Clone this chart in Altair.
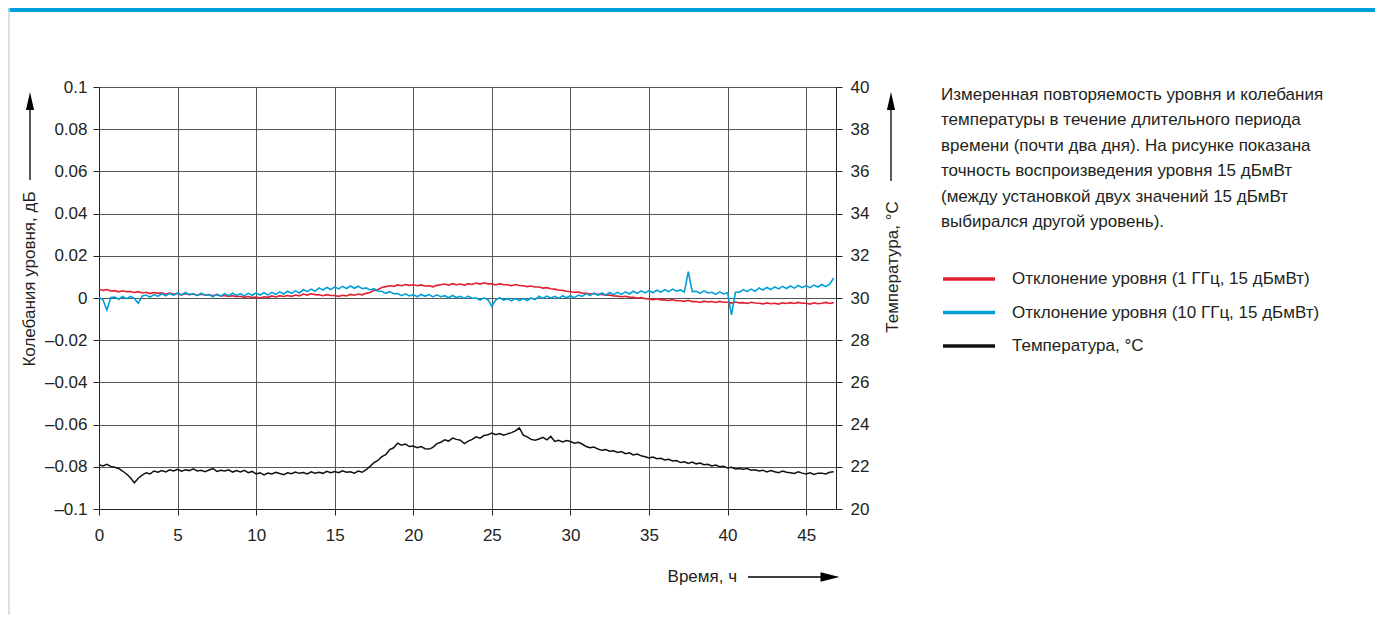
import altair as alt
import pandas as pd

# ---------------- data ----------------
TIME_H = [
    0, 0.25, 0.5, 0.75, 1, 1.25, 1.5, 1.75, 2, 2.25, 2.5, 2.75, 3, 3.25, 3.5, 3.75,
    4, 4.25, 4.5, 4.75, 5, 5.25, 5.5, 5.75, 6, 6.25, 6.5, 6.75, 7, 7.25, 7.5, 7.75,
    8, 8.25, 8.5, 8.75, 9, 9.25, 9.5, 9.75, 10, 10.25, 10.5, 10.75, 11, 11.25, 11.5, 11.75,
    12, 12.25, 12.5, 12.75, 13, 13.25, 13.5, 13.75, 14, 14.25, 14.5, 14.75, 15, 15.25, 15.5, 15.75,
    16, 16.25, 16.5, 16.75, 17, 17.25, 17.5, 17.75, 18, 18.25, 18.5, 18.75, 19, 19.25, 19.5, 19.75,
    20, 20.25, 20.5, 20.75, 21, 21.25, 21.5, 21.75, 22, 22.25, 22.5, 22.75, 23, 23.25, 23.5, 23.75,
    24, 24.25, 24.5, 24.75, 25, 25.25, 25.5, 25.75, 26, 26.25, 26.5, 26.75, 27, 27.25, 27.5, 27.75,
    28, 28.25, 28.5, 28.75, 29, 29.25, 29.5, 29.75, 30, 30.25, 30.5, 30.75, 31, 31.25, 31.5, 31.75,
    32, 32.25, 32.5, 32.75, 33, 33.25, 33.5, 33.75, 34, 34.25, 34.5, 34.75, 35, 35.25, 35.5, 35.75,
    36, 36.25, 36.5, 36.75, 37, 37.25, 37.5, 37.75, 38, 38.25, 38.5, 38.75, 39, 39.25, 39.5, 39.75,
    40, 40.25, 40.5, 40.75, 41, 41.25, 41.5, 41.75, 42, 42.25, 42.5, 42.75, 43, 43.25, 43.5, 43.75,
    44, 44.25, 44.5, 44.75, 45, 45.25, 45.5, 45.75, 46, 46.25, 46.5, 46.75,
]

LEVEL_1GHZ = [
    0.0042, 0.0036, 0.0040, 0.0033, 0.0035, 0.0029, 0.0034, 0.0030,
    0.0031, 0.0026, 0.0030, 0.0024, 0.0027, 0.0021, 0.0026, 0.0022,
    0.0024, 0.0018, 0.0023, 0.0019, 0.0021, 0.0015, 0.0020, 0.0016,
    0.0019, 0.0013, 0.0018, 0.0014, 0.0016, 0.0011, 0.0015, 0.0010,
    0.0012, 0.0007, 0.0011, 0.0006, 0.0008, 0.0003, 0.0007, 0.0002,
    0.0005, 0.0000, 0.0006, 0.0003, 0.0010, 0.0005, 0.0011, 0.0007,
    0.0012, 0.0008, 0.0014, 0.0010, 0.0019, 0.0014, 0.0020, 0.0016,
    0.0015, 0.0011, 0.0016, 0.0012, 0.0012, 0.0008, 0.0013, 0.0010,
    0.0017, 0.0013, 0.0019, 0.0015, 0.0022, 0.0026, 0.0036, 0.0040,
    0.0050, 0.0054, 0.0058, 0.0055, 0.0062, 0.0058, 0.0064, 0.0060,
    0.0063, 0.0058, 0.0062, 0.0057, 0.0058, 0.0053, 0.0060, 0.0063,
    0.0066, 0.0061, 0.0068, 0.0063, 0.0066, 0.0061, 0.0068, 0.0064,
    0.0071, 0.0066, 0.0072, 0.0067, 0.0067, 0.0062, 0.0068, 0.0063,
    0.0063, 0.0058, 0.0064, 0.0059, 0.0058, 0.0054, 0.0057, 0.0052,
    0.0052, 0.0047, 0.0049, 0.0044, 0.0042, 0.0038, 0.0036, 0.0032,
    0.0030, 0.0027, 0.0028, 0.0023, 0.0022, 0.0019, 0.0021, 0.0017,
    0.0017, 0.0013, 0.0014, 0.0010, 0.0009, 0.0006, 0.0008, 0.0004,
    0.0003, 0.0000, 0.0002, -0.0003, -0.0005, -0.0008, -0.0004, -0.0009,
    -0.0009, -0.0012, -0.0008, -0.0013, -0.0013, -0.0016, -0.0011, -0.0017,
    -0.0017, -0.0021, -0.0015, -0.0019, -0.0017, -0.0021, -0.0016, -0.0020,
    -0.0020, -0.0024, -0.0019, -0.0023, -0.0022, -0.0026, -0.0020, -0.0024,
    -0.0025, -0.0028, -0.0023, -0.0027, -0.0025, -0.0029, -0.0023, -0.0026,
    -0.0022, -0.0026, -0.0021, -0.0025, -0.0025, -0.0029, -0.0023, -0.0027,
    -0.0025, -0.0021, -0.0026, -0.0022,
]

LEVEL_10GHZ = [
    0.0003, -0.0008, -0.0057, 0.0002, 0.0004, -0.0006, 0.0007, -0.0003,
    0.0008, -0.0002, -0.0025, 0.0010, 0.0014, 0.0004, 0.0016, 0.0008,
    0.0020, 0.0010, 0.0022, 0.0013, 0.0024, 0.0014, 0.0026, 0.0016,
    0.0021, 0.0011, 0.0023, 0.0013, 0.0016, 0.0006, 0.0018, 0.0009,
    0.0021, 0.0011, 0.0023, 0.0012, 0.0021, 0.0010, 0.0022, 0.0013,
    0.0024, 0.0014, 0.0025, 0.0015, 0.0027, 0.0017, 0.0029, 0.0019,
    0.0032, 0.0022, 0.0034, 0.0024, 0.0040, 0.0030, 0.0042, 0.0032,
    0.0048, 0.0038, 0.0050, 0.0040, 0.0053, 0.0043, 0.0055, 0.0045,
    0.0057, 0.0046, 0.0056, 0.0044, 0.0048, 0.0038, 0.0044, 0.0032,
    0.0032, 0.0022, 0.0030, 0.0020, 0.0021, 0.0011, 0.0020, 0.0010,
    0.0016, 0.0006, 0.0017, 0.0008, 0.0016, 0.0005, 0.0015, 0.0006,
    0.0011, 0.0001, 0.0012, 0.0002, 0.0008, -0.0002, 0.0009, -0.0001,
    0.0000, -0.0010, 0.0001, -0.0008, -0.0040, -0.0009, 0.0001, -0.0010,
    -0.0004, -0.0014, -0.0003, -0.0012, -0.0002, -0.0012, 0.0000, -0.0008,
    0.0008, -0.0002, 0.0009, 0.0000, 0.0008, -0.0002, 0.0010, 0.0001,
    0.0011, 0.0001, 0.0014, 0.0008, 0.0021, 0.0011, 0.0023, 0.0013,
    0.0024, 0.0014, 0.0026, 0.0016, 0.0027, 0.0017, 0.0029, 0.0019,
    0.0032, 0.0022, 0.0034, 0.0024, 0.0035, 0.0025, 0.0037, 0.0028,
    0.0040, 0.0030, 0.0042, 0.0032, 0.0038, 0.0028, 0.0125, 0.0030,
    0.0032, 0.0022, 0.0034, 0.0024, 0.0027, 0.0017, 0.0029, 0.0019,
    0.0025, -0.0080, 0.0027, 0.0028, 0.0040, 0.0030, 0.0042, 0.0032,
    0.0048, 0.0038, 0.0050, 0.0040, 0.0053, 0.0043, 0.0055, 0.0045,
    0.0057, 0.0047, 0.0059, 0.0049, 0.0059, 0.0049, 0.0061, 0.0052,
    0.0064, 0.0054, 0.0066, 0.0095,
]

TEMPERATURE_C = [
    22.10, 22.04, 22.12, 22.02, 21.98, 21.92, 21.80, 21.66,
    21.48, 21.24, 21.46, 21.60, 21.72, 21.66, 21.80, 21.74,
    21.82, 21.76, 21.86, 21.80, 21.88, 21.79, 21.86, 21.82,
    21.90, 21.80, 21.84, 21.77, 21.85, 21.92, 21.78, 21.84,
    21.80, 21.86, 21.75, 21.82, 21.76, 21.83, 21.72, 21.78,
    21.66, 21.72, 21.62, 21.70, 21.66, 21.74, 21.68, 21.63,
    21.72, 21.67, 21.75, 21.69, 21.73, 21.66, 21.76, 21.70,
    21.74, 21.69, 21.79, 21.72, 21.78, 21.72, 21.81, 21.74,
    21.76, 21.70, 21.80, 21.74, 21.86, 22.02, 22.20, 22.30,
    22.48, 22.58, 22.82, 22.90, 23.12, 23.02, 23.08, 22.96,
    22.98, 22.90, 22.96, 22.86, 22.84, 22.92, 23.10, 23.16,
    23.28, 23.22, 23.36, 23.30, 23.26, 23.10, 23.22, 23.30,
    23.42, 23.36, 23.48, 23.52, 23.60, 23.52, 23.58, 23.50,
    23.56, 23.62, 23.70, 23.84, 23.50, 23.42, 23.30, 23.26,
    23.32, 23.40, 23.28, 23.44, 23.20, 23.26, 23.18, 23.24,
    23.20, 23.12, 23.16, 23.08, 22.96, 22.90, 22.94, 22.84,
    22.78, 22.82, 22.74, 22.76, 22.68, 22.72, 22.62, 22.66,
    22.56, 22.60, 22.52, 22.48, 22.42, 22.46, 22.38, 22.40,
    22.32, 22.36, 22.28, 22.30, 22.20, 22.24, 22.16, 22.22,
    22.14, 22.18, 22.10, 22.12, 22.04, 22.08, 22.00, 22.02,
    21.94, 21.98, 21.90, 21.92, 21.88, 21.92, 21.84, 21.86,
    21.80, 21.84, 21.76, 21.82, 21.77, 21.72, 21.80, 21.74,
    21.72, 21.68, 21.76, 21.70, 21.66, 21.72, 21.64, 21.70,
    21.70, 21.66, 21.74, 21.76,
]

X_TICKS = [0, 5, 10, 15, 20, 25, 30, 35, 40, 45]
LEVEL_TICKS = [-0.1, -0.08, -0.06, -0.04, -0.02, 0, 0.02, 0.04, 0.06, 0.08, 0.1]
TEMP_TICKS = [20, 22, 24, 26, 28, 30, 32, 34, 36, 38, 40]

S1 = "Отклонение уровня (1 ГГц, 15 дБмВт)"
S2 = "Отклонение уровня (10 ГГц, 15 дБмВт)"
S3 = "Температура, °C"
SERIES = [S1, S2, S3]
COLORS = ["#e3202f", "#009fda", "#111111"]

NOTE = [
    "Измеренная повторяемость уровня и колебания",
    "температуры в течение длительного периода",
    "времени (почти два дня). На рисунке показана",
    "точность воспроизведения уровня 15 дБмВт",
    "(между установкой двух значений 15 дБмВт",
    "выбирался другой уровень).",
]
Y_LEFT_TITLE = "Колебания уровня, дБ"
Y_RIGHT_TITLE = "Температура, °C"
X_TITLE = "Время, ч"

FONT = "Liberation Sans, Arial, sans-serif"
TXT = "#231f20"

# ---------------- tables ----------------
n = len(TIME_H)
levels = pd.DataFrame({
    "t": TIME_H + TIME_H,
    "v": LEVEL_1GHZ + LEVEL_10GHZ,
    "series": [S1] * n + [S2] * n,
})
temps = pd.DataFrame({"t": TIME_H, "T": TEMPERATURE_C, "series": [S3] * n})
one = pd.DataFrame({"k": [0]})

x_enc = alt.X(
    "t:Q",
    scale=alt.Scale(domain=[0, 46.9], nice=False, zero=False),
    axis=alt.Axis(values=X_TICKS, title=None, grid=True, tickSize=6,
                  labelPadding=12, format="d", labelFlush=False),
)

color_enc = alt.Color(
    "series:N",
    scale=alt.Scale(domain=SERIES, range=COLORS),
    sort=SERIES,
    legend=alt.Legend(
        title=NOTE, orient="none", legendX=842, legendY=0,
        titleFont=FONT, titleFontSize=17, titleFontWeight="normal",
        titleColor=TXT, titleLineHeight=25.4, titleLimit=600, titlePadding=38,
        labelFont=FONT, labelFontSize=17, labelColor=TXT, labelLimit=600,
        labelOffset=15, symbolType="stroke", symbolStrokeWidth=3.5,
        symbolSize=2704, clipHeight=20, rowPadding=13.5, padding=0,
    ),
)

lvl = alt.Chart(levels).mark_line(strokeWidth=1.6, clip=True).encode(
    x=x_enc,
    y=alt.Y(
        "v:Q",
        scale=alt.Scale(domain=[-0.1, 0.1], nice=False, zero=False),
        axis=alt.Axis(
            values=LEVEL_TICKS, title=None, grid=True, orient="left",
            tickSize=6, labelPadding=6, labelFlush=False,
            labelExpr="datum.value == 0 ? '0' : (datum.value < 0 ? '–' : '') + format(abs(datum.value), '.2~f')",
        ),
    ),
    color=color_enc,
)

tmp = alt.Chart(temps).mark_line(strokeWidth=1.5, clip=True).encode(
    x=x_enc,
    y=alt.Y(
        "T:Q",
        scale=alt.Scale(domain=[20, 40], nice=False, zero=False),
        axis=alt.Axis(values=TEMP_TICKS, title=None, grid=False, orient="right",
                      tickSize=6, labelPadding=8, labelFlush=False),
    ),
    color=color_enc,
)

base = alt.Chart(one)

# frame of the figure
top_bar = base.mark_rect(color="#009fda").encode(
    x=alt.value(-91), x2=alt.value(1279), y=alt.value(-79), y2=alt.value(-75))
left_border = base.mark_rule(color="#d4d4d4", strokeWidth=1.5).encode(
    x=alt.value(-90), y=alt.value(-79), y2=alt.value(540))
right_border = base.mark_rule(color="#d4d4d4", strokeWidth=1.5).encode(
    x=alt.value(1277), y=alt.value(-79), y2=alt.value(540))

# axis-title arrows
UP = "M0,-1L0.45,1L-0.45,1Z"
RIGHT = "M1,0L-1,-0.5L-1,0.5Z"
l_arrow = base.mark_rule(color="#000", strokeWidth=1.3).encode(
    x=alt.value(-69), y=alt.value(93), y2=alt.value(18))
l_head = base.mark_point(shape=UP, filled=True, size=324, color="#000", opacity=1).encode(
    x=alt.value(-69), y=alt.value(14))
r_arrow = base.mark_rule(color="#000", strokeWidth=1.3).encode(
    x=alt.value(792), y=alt.value(94), y2=alt.value(18))
r_head = base.mark_point(shape=UP, filled=True, size=324, color="#000", opacity=1).encode(
    x=alt.value(792), y=alt.value(14))
b_arrow = base.mark_rule(color="#000", strokeWidth=1.3).encode(
    x=alt.value(649), x2=alt.value(726), y=alt.value(490))
b_head = base.mark_point(shape=RIGHT, filled=True, size=361, color="#000", opacity=1).encode(
    x=alt.value(731), y=alt.value(490))

l_title = base.mark_text(font=FONT, fontSize=17, color=TXT, angle=270,
                         align="center", baseline="middle").encode(
    x=alt.value(-69), y=alt.value(192), text=alt.value(Y_LEFT_TITLE))
r_title = base.mark_text(font=FONT, fontSize=17, color=TXT, angle=270,
                         align="center", baseline="middle").encode(
    x=alt.value(794), y=alt.value(180), text=alt.value(Y_RIGHT_TITLE))
x_title = base.mark_text(font=FONT, fontSize=17, color=TXT,
                         align="right", baseline="middle").encode(
    x=alt.value(638), y=alt.value(490), text=alt.value(X_TITLE))

chart = alt.layer(
    lvl, tmp,
    top_bar, left_border, right_border,
    l_arrow, l_head, r_arrow, r_head, b_arrow, b_head,
    l_title, r_title, x_title,
).resolve_scale(
    y="independent"
).properties(
    width=737, height=422,
    padding={"left": 91, "top": 79, "right": 539, "bottom": 106},
    autosize=alt.AutoSizeParams(type="none"),
    background="white",
).configure_view(
    stroke=None
).configure_axis(
    labelFont=FONT, labelFontSize=17, labelColor=TXT,
    domainColor="#222", domainWidth=1, tickColor="#222", tickWidth=1,
    gridColor="#555", gridWidth=1, gridOpacity=1,
)

chart.save("out.html", embed_options={"renderer": "svg", "actions": False})
